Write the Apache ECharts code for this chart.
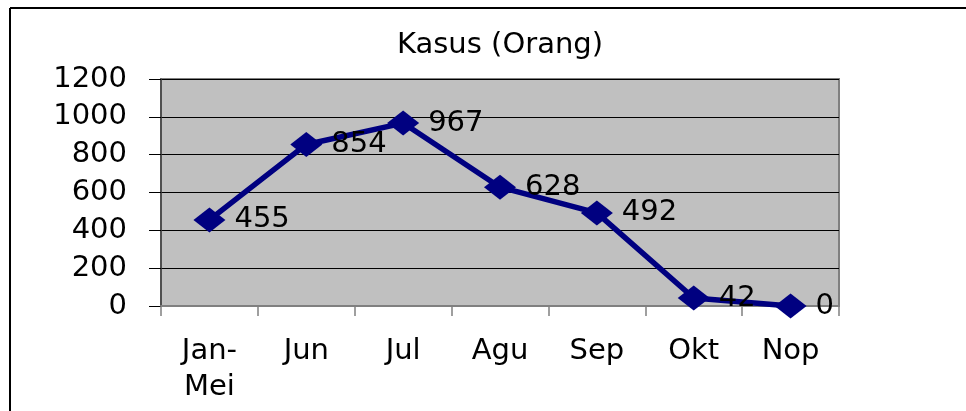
<!DOCTYPE html>
<html>
<head>
<meta charset="utf-8">
<script src="https://cdn.jsdelivr.net/npm/echarts@6/dist/echarts.min.js"></script>
<style>
html,body{margin:0;padding:0;background:#fff;}
#chart{width:966px;height:411px;}
</style>
</head>
<body>
<div id="chart"></div>
<script>
const titleText = 'Kasus (Orang)';
const categories = ['Jan-\nMei', 'Jun', 'Jul', 'Agu', 'Sep', 'Okt', 'Nop'];
const kasus = [455, 854, 967, 628, 492, 42, 0];
const yMin = 0, yMax = 1200, yStep = 200;

const FONT = '"DejaVu Sans", "Liberation Sans", Arial, sans-serif';
const chart = echarts.init(document.getElementById('chart'));
chart.setOption({
  backgroundColor: '#ffffff',
  animation: false,
  title: {
    text: titleText,
    left: 495,
    top: 26,
    textAlign: 'center',
    textStyle: { fontFamily: FONT, fontSize: 29, fontWeight: 'normal', color: '#000' }
  },
  graphic: [
    { type: 'line', shape: { x1: 10, y1: 8, x2: 966, y2: 8 }, style: { stroke: '#000', lineWidth: 2 } },
    { type: 'line', shape: { x1: 10, y1: 8, x2: 10, y2: 411 }, style: { stroke: '#000', lineWidth: 2 } }
  ],
  grid: {
    left: 161, right: 127, top: 79, bottom: 105,
    show: true, backgroundColor: '#c0c0c0', borderColor: '#808080', borderWidth: 2
  },
  xAxis: {
    type: 'category',
    data: categories,
    boundaryGap: true,
    axisLine: { lineStyle: { color: '#808080', width: 2 } },
    axisTick: { show: true, length: 10, lineStyle: { color: '#808080', width: 1.5 } },
    axisLabel: { fontFamily: FONT, fontSize: 29, color: '#000', margin: 27, lineHeight: 36, interval: 0 },
    splitLine: { show: false }
  },
  yAxis: {
    type: 'value',
    min: yMin, max: yMax, interval: yStep,
    axisLine: { show: true, lineStyle: { color: '#404040', width: 1.5 } },
    axisTick: { show: true, length: 12, lineStyle: { color: '#000', width: 1 } },
    axisLabel: { fontFamily: FONT, fontSize: 29, color: '#000', margin: 34, formatter: (v) => String(v) },
    splitLine: { show: true, lineStyle: { color: '#000', width: 1 } }
  },
  series: [{
    type: 'line',
    data: kasus,
    symbol: 'diamond',
    symbolSize: [32, 25],
    itemStyle: { color: '#000080' },
    lineStyle: { color: '#000080', width: 5.5 },
    label: {
      show: true, position: 'right', distance: 9,
      fontFamily: FONT, fontSize: 29, color: '#000'
    }
  }]
});
</script>
</body>
</html>
